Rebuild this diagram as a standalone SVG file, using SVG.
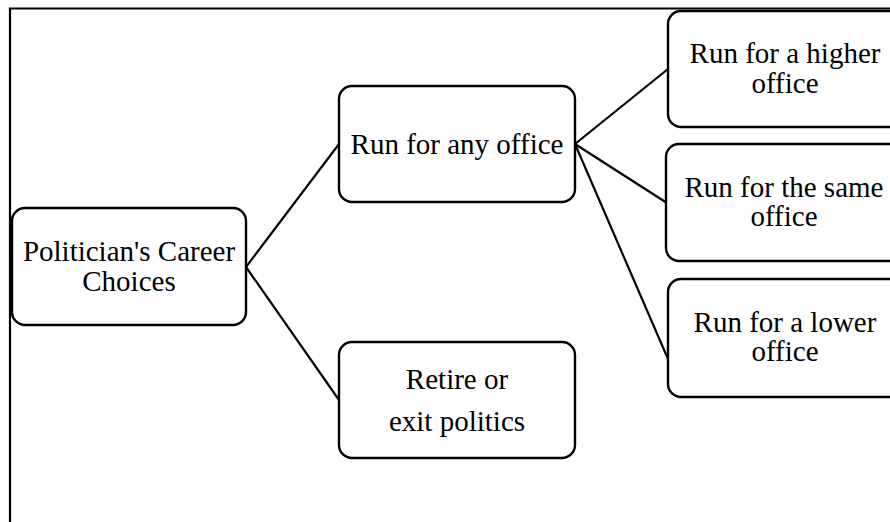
<svg xmlns="http://www.w3.org/2000/svg" width="890" height="522" viewBox="0 0 890 522">
  <style>
    .box { fill: #ffffff; stroke: #000000; stroke-width: 2.4; }
    .edge { stroke: #000000; stroke-width: 2.2; fill: none; }
    .frame { stroke: #000000; stroke-width: 2.2; fill: none; }
  </style>
  <rect width="890" height="522" fill="#ffffff"/>
  <!-- outer frame: top and left rules only -->
  <path class="frame" d="M10,522 V8.5 H890"/>

  <g id="connectors">
    <line class="edge" x1="246" y1="267" x2="339" y2="144"/>
    <line class="edge" x1="246" y1="267" x2="339" y2="400"/>
    <line class="edge" x1="575" y1="144" x2="668" y2="69"/>
    <line class="edge" x1="575" y1="144" x2="667" y2="203"/>
    <line class="edge" x1="575" y1="144" x2="668" y2="359"/>
  </g>

  <g font-family="Liberation Serif, Times New Roman, Tinos, DejaVu Serif, serif" font-size="29" fill="#000000" text-anchor="middle">
    <g id="root">
      <rect class="box" x="12" y="208" width="234" height="117" rx="13"/>
      <text x="129" y="261"><tspan x="129" y="261">Politician's Career</tspan><tspan x="129" y="291">Choices</tspan></text>
    </g>

    <g id="run-any">
      <rect class="box" x="339" y="86" width="236" height="116" rx="13"/>
      <text x="457" y="154">Run for any office</text>
    </g>

    <g id="retire">
      <rect class="box" x="339" y="342" width="236" height="116" rx="13"/>
      <text x="457" y="389"><tspan x="457" y="389">Retire or</tspan><tspan x="457" y="431">exit politics</tspan></text>
    </g>

    <g id="higher">
      <rect class="box" x="668" y="11" width="240" height="116" rx="13"/>
      <text x="785" y="63"><tspan x="785" y="63">Run for a higher</tspan><tspan x="785" y="93">office</tspan></text>
    </g>

    <g id="same">
      <rect class="box" x="666" y="144" width="240" height="117" rx="13"/>
      <text x="784" y="197"><tspan x="784" y="197">Run for the same</tspan><tspan x="784" y="226">office</tspan></text>
    </g>

    <g id="lower">
      <rect class="box" x="668" y="279" width="240" height="118" rx="13"/>
      <text x="785" y="332"><tspan x="785" y="332">Run for a lower</tspan><tspan x="785" y="361">office</tspan></text>
    </g>
  </g>
</svg>
